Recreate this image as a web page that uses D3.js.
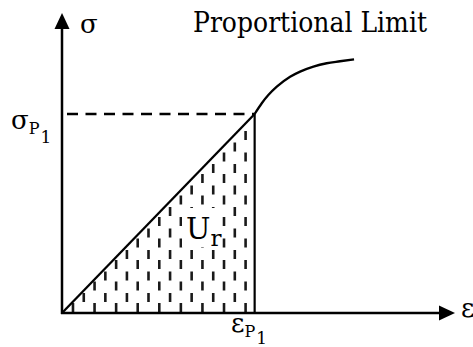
<html>
<head>
<style>
  body { margin: 0; background: #fff; }
  svg { position: absolute; top: 0; left: 0; }
  text { font-family: "DejaVu Serif", serif; fill: #000; }
  .axis { stroke: #000; stroke-width: 2.5px; }
  .curve { fill: none; stroke: #000; stroke-width: 2.3px; }
  .limit { stroke: #000; stroke-width: 2.4px; stroke-dasharray: 11,7.5; }
  .hatch { stroke: #1a1a1a; stroke-width: 2.6px; stroke-dasharray: 9,12.5; }
</style>
<script src="https://cdnjs.cloudflare.com/ajax/libs/d3/7.8.5/d3.min.js"></script>
</head>
<body>
<svg width="473" height="347"></svg>
<script>
// stress-strain values (strain in units of eps_P1, stress in units of sigma_P1)
var linearStrain = [0, 1.0];
var linearStress = [0, 1.0];
var curveStrain = [1.0, 1.037, 1.071, 1.115, 1.184, 1.236, 1.305, 1.374, 1.443, 1.516];
var curveStress = [1.0, 1.054, 1.095, 1.137, 1.187, 1.213, 1.238, 1.255, 1.265, 1.275];
var epsP1 = 1.0, sigmaP1 = 1.0;
var hatchCount = 17;

var svg = d3.select("svg");

var x = d3.scaleLinear().domain([0, 2.04]).range([62, 455]);
var y = d3.scaleLinear().domain([0, 1.5075]).range([313, 13]);

var line = d3.line().x(function(d) { return x(d[0]); }).y(function(d) { return y(d[1]); });
var smooth = d3.line().x(function(d) { return x(d[0]); }).y(function(d) { return y(d[1]); }).curve(d3.curveMonotoneX);

var linPts = linearStrain.map(function(s, i) { return [s, linearStress[i]]; });
var curPts = curveStrain.map(function(s, i) { return [s, curveStress[i]]; });

// hatch inside triangle under the elastic line
svg.append("clipPath").attr("id", "tri")
  .append("path")
  .attr("d", line([[0, 0], [epsP1, sigmaP1], [epsP1, 0]]) + "Z");

var hatchX = d3.range(hatchCount).map(function(i) { return 0.057 + i * 0.056; });
svg.append("g").attr("clip-path", "url(#tri)")
  .selectAll("line").data(hatchX).join("line")
  .attr("class", "hatch")
  .attr("x1", function(d) { return x(d); })
  .attr("x2", function(d) { return x(d); })
  .attr("y1", y(0))
  .attr("y2", y(sigmaP1))
  .attr("stroke-dashoffset", function(d, i) { return i % 2 ? 10.5 : 20.5; });

// label background
svg.append("rect").attr("x", 182).attr("y", 208).attr("width", 39).attr("height", 39).attr("fill", "#fff");

// dashed proportional limit level
svg.append("line").attr("class", "limit")
  .attr("x1", x(0) + 5).attr("x2", x(epsP1))
  .attr("y1", y(sigmaP1)).attr("y2", y(sigmaP1));

// vertical at eps_P1
svg.append("line").attr("class", "axis").style("stroke-width", "2.2px")
  .attr("x1", x(epsP1)).attr("x2", x(epsP1))
  .attr("y1", y(0)).attr("y2", y(sigmaP1));

svg.append("path").attr("class", "curve").attr("d", line(linPts));
svg.append("path").attr("class", "curve").attr("d", smooth(curPts));

// axes with arrows
var x0 = x(0), y0 = y(0), xEnd = x.range()[1], yEnd = y.range()[1];
svg.append("line").attr("class", "axis").attr("x1", x0).attr("x2", x0).attr("y1", y0 + 1).attr("y2", yEnd + 14);
svg.append("line").attr("class", "axis").attr("x1", x0 - 1).attr("x2", xEnd - 14).attr("y1", y0).attr("y2", y0);
svg.append("path").attr("d", "M" + x0 + "," + yEnd + "L" + (x0 - 7.5) + "," + (yEnd + 16) + "L" + (x0 + 7.5) + "," + (yEnd + 16) + "Z");
svg.append("path").attr("d", "M" + xEnd + "," + y0 + "L" + (xEnd - 16) + "," + (y0 - 7.5) + "L" + (xEnd - 16) + "," + (y0 + 7.5) + "Z");

// labels
svg.append("text").attr("x", 80).attr("y", 33).style("font-size", "26px").text("σ");
svg.append("text").attr("x", 461).attr("y", 317).style("font-size", "26px").text("ε");
svg.append("text").attr("x", 193).attr("y", 32).style("font-size", "27px")
  .attr("textLength", 234).attr("lengthAdjust", "spacingAndGlyphs").text("Proportional Limit");

function subLabel(px, py, main, sub, subsub, size, drop) {
  var t = svg.append("text").attr("x", px).attr("y", py).style("font-size", size + "px");
  t.append("tspan").text(main);
  t.append("tspan").attr("dy", 5).style("font-size", "16px").text(sub);
  t.append("tspan").attr("dy", drop).attr("dx", 1).style("font-size", "17px").text(subsub);
}
subLabel(11, 129, "σ", "P", "1", 26, 9);
subLabel(231, 332, "ε", "P", "1", 26, 7);

var ur = svg.append("text").attr("x", 186).attr("y", 239).style("font-size", "29px");
ur.append("tspan").text("U");
ur.append("tspan").attr("dy", 7).style("font-size", "23px").text("r");
</script>
</body>
</html>
